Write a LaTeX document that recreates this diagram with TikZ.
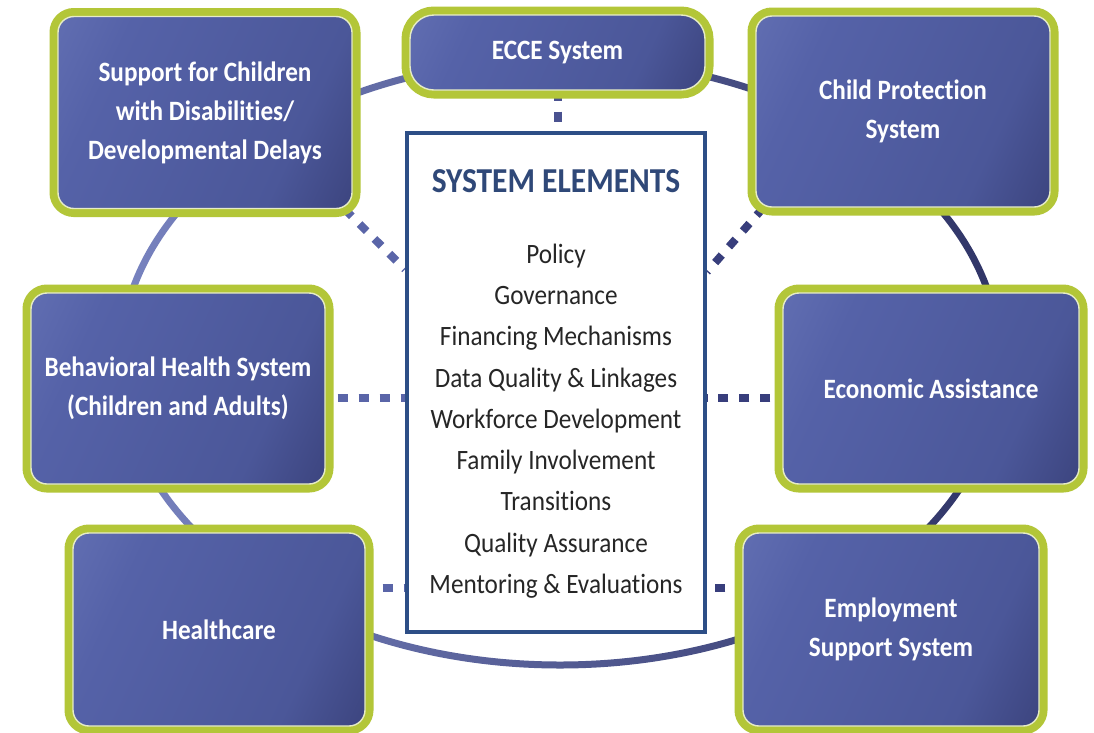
\documentclass[tikz,border=0pt]{standalone}
\usepackage{fontspec}
\setmainfont{Carlito}[FakeStretch=0.9, RawFeature={-liga}]
\usetikzlibrary{calc,backgrounds}
\definecolor{lime}{HTML}{B3C638}
\definecolor{inline}{HTML}{E6ECC6}
\definecolor{bxL}{HTML}{6F7CBD}
\definecolor{bxM}{HTML}{5562A8}
\definecolor{bxM2}{HTML}{4B5799}
\definecolor{bxD}{HTML}{2C3062}
\definecolor{ringL}{HTML}{7883C0}
\definecolor{ringR}{HTML}{2F3466}
\definecolor{dcL}{HTML}{5A65A8}
\definecolor{dcM}{HTML}{4A5290}
\definecolor{dcR}{HTML}{383E7C}
\definecolor{cbord}{HTML}{2D4E86}
\definecolor{ttlc}{HTML}{2F4878}
\definecolor{listc}{HTML}{262626}
\pgfdeclarehorizontalshading{boxgrad}{100bp}{color(0bp)=(bxL); color(30bp)=(bxM); color(68bp)=(bxM2); color(100bp)=(bxD)}
\tikzset{
  sysbox/.style={rounded corners=16pt, shade, shading=boxgrad, shading angle=-25,
    draw=inline, line width=1.4pt, preaction={draw=lime, line width=17pt},
    text=white, font=\bfseries\fontsize{28}{39}\selectfont, align=center, inner sep=0pt,
    minimum width=294pt, minimum height=192pt},
  dc/.style={line width=8pt, dash pattern=on 10pt off 11pt},
  cboxstyle/.style={draw=cbord, line width=4pt, fill=white, inner sep=0pt,
    minimum width=298pt, minimum height=499pt},
  ttl/.style={text=ttlc, font=\bfseries\fontsize{35}{40}\selectfont, inner sep=0pt},
  lst/.style={text=listc, font=\fontsize{28}{41.3}\selectfont, align=center, inner sep=0pt}
}
\begin{document}
\begin{tikzpicture}[x=1pt,y=-1pt]
\useasboundingbox (0,0) rectangle (1094,732);
\clip (0,0) rectangle (1094,732);
% center box
\node[cboxstyle] (cbox) at (556,382.5) {};
\node[ttl] (title) at (556,181) {SYSTEM ELEMENTS};
\node[lst] (elems) at (556,421) {Policy\\Governance\\Financing Mechanisms\\Data Quality \& Linkages\\Workforce Development\\Family Involvement\\Transitions\\Quality Assurance\\Mentoring \& Evaluations};
% boxes
\node[sysbox] (sup) at (205,112.5) {Support for Children\\with Disabilities/\\Developmental Delays};
\node[sysbox, minimum width=295pt, minimum height=75pt, rounded corners=24pt] (ecce) at (557.5,52.5) {ECCE System};
\node[sysbox, minimum height=191pt] (cp) at (903,111.5) {Child Protection\\System};
\node[sysbox, minimum height=191pt] (beh) at (178,388.5) {Behavioral Health System\\(Children and Adults)};
\node[sysbox, minimum width=296pt, minimum height=191pt] (eco) at (931,388.5) {Economic Assistance};
\node[sysbox, minimum width=292pt, minimum height=193pt] (hc) at (219,629.5) {Healthcare};
\node[sysbox, minimum width=296pt, minimum height=193pt] (emp) at (891,629.5) {Employment\\Support System};
\coordinate (bL) at ($(beh.east)+(0,9.5)$);
\coordinate (eR) at ($(eco.west)+(0,9.5)$);
\coordinate (hR) at ($(hc.east)+(0,-41.5)$);
\coordinate (mL) at ($(emp.west)+(0,-41.5)$);
\begin{pgfonlayer}{background}
\fill[white] (0,0) rectangle (1094,732);
\shade[left color=ringL, right color=ringR, even odd rule]
  (560,362) ellipse [x radius=443.5, y radius=306.5]
  (560,362) ellipse [x radius=436.5, y radius=299.5];
\draw[dc, dcL] ($(sup.south east)+(-8,0)$) -- ($(cbox.north west)!0.275!(cbox.south west)$);
\draw[dc, dcR] ($(cp.south west)+(8,0)$) -- ($(cbox.north east)!0.28!(cbox.south east)$);
\draw[dc, dcL, dash phase=9pt] (bL) -- (bL -| cbox.west);
\draw[dc, dcR, dash phase=9pt] (eR) -- (eR -| cbox.east);
\draw[dc, dcL, dash phase=4pt] (hR) -- (hR -| cbox.west);
\draw[dc, dcR, dash phase=4pt] (mL) -- (mL -| cbox.east);
\draw[dc, dcM] (ecce.south) -- (ecce.south |- cbox.north);
\end{pgfonlayer}
\end{tikzpicture}
\end{document}
